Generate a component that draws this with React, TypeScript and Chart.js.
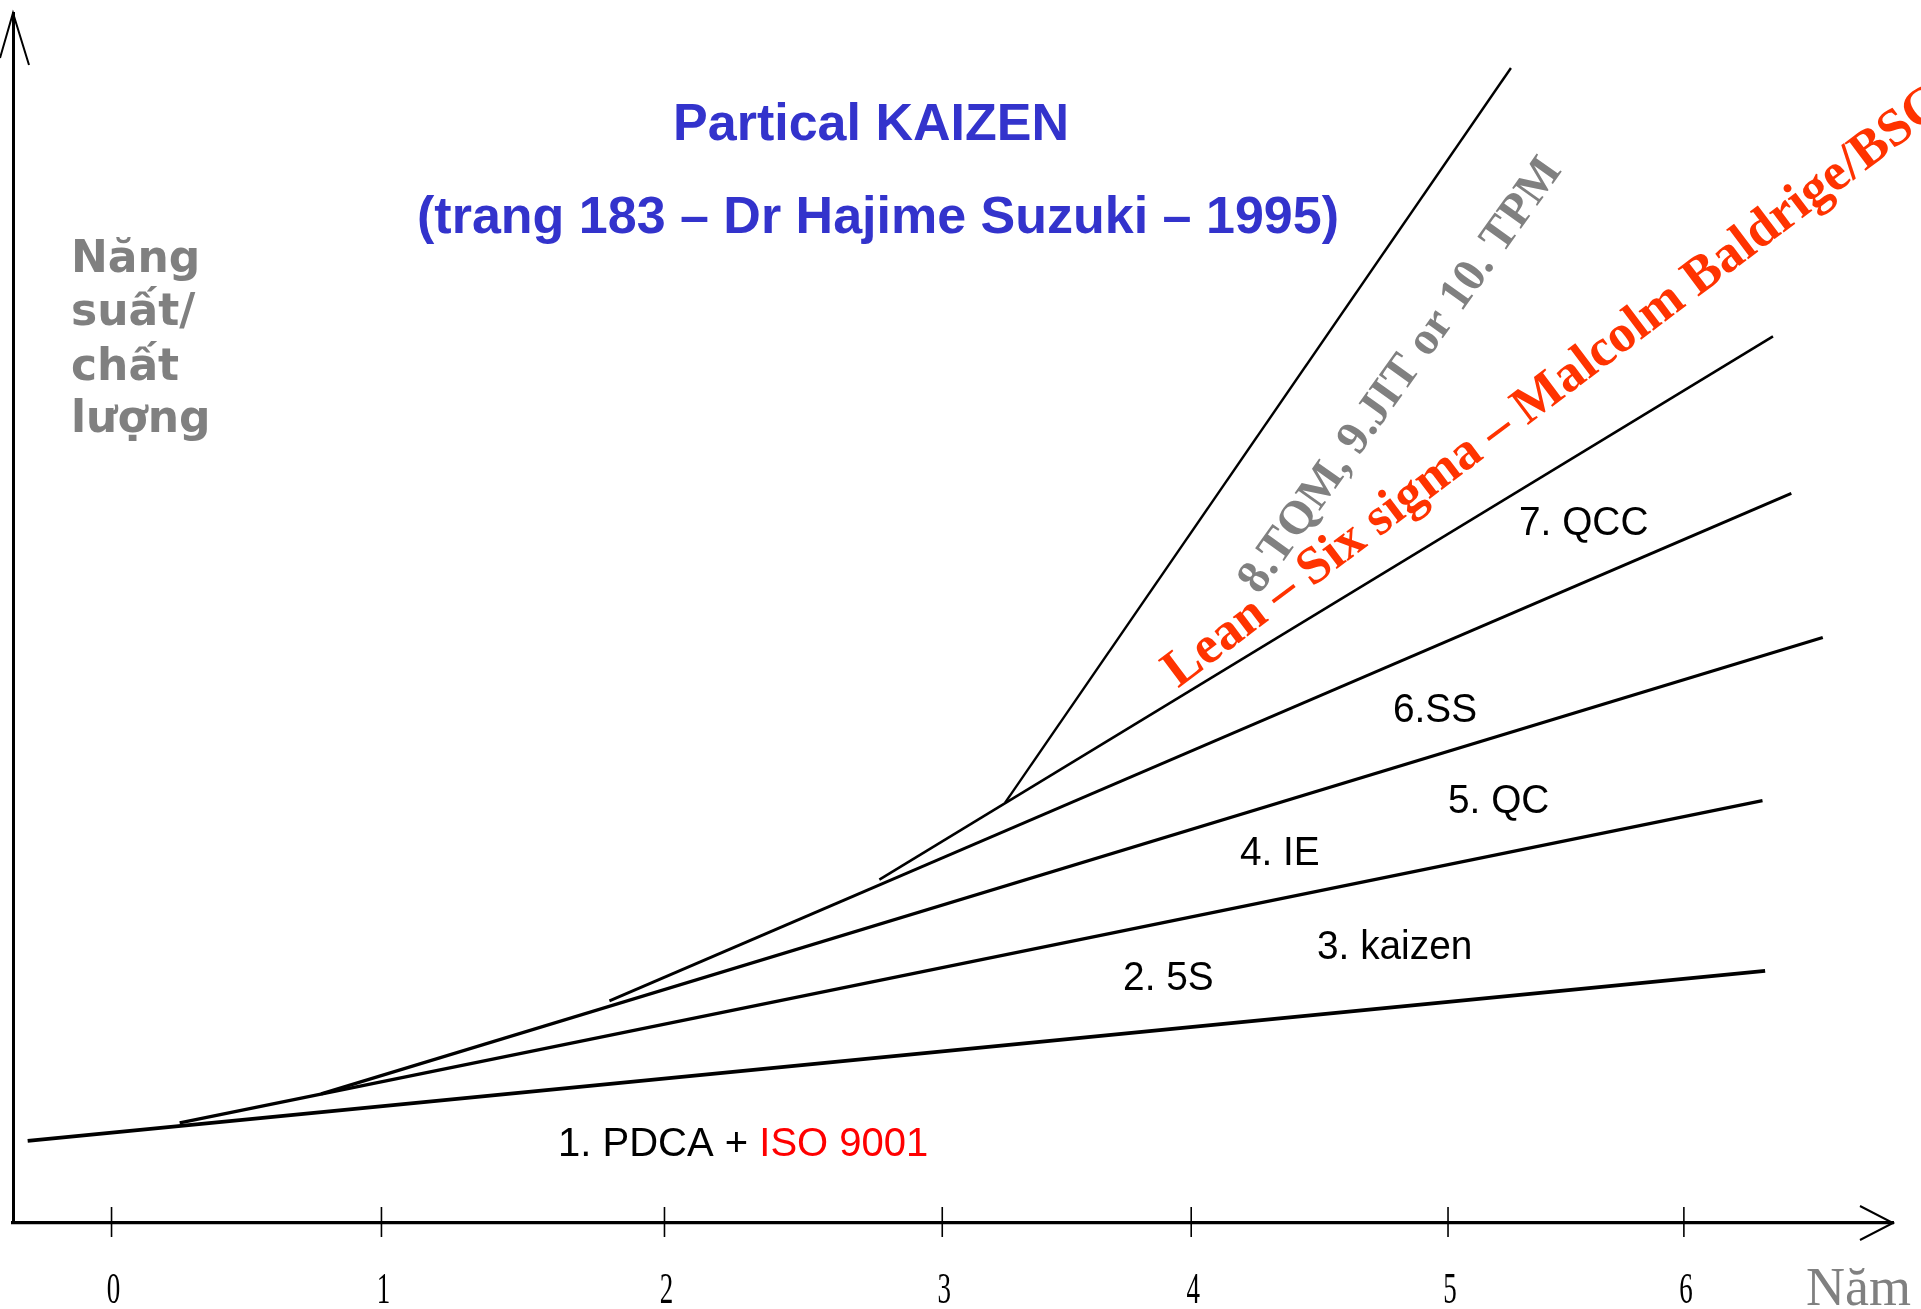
import { useEffect, useRef } from 'react';
import { Chart, registerables } from 'chart.js';

Chart.register(...registerables);

// ---- Axis ticks (years, as drawn on the hand-made axis) ----
const yearTickLabels = ['0', '1', '2', '3', '4', '5', '6'];
const yearTickValues = [0, 1.03, 2.11, 3.17, 4.12, 5.1, 6.0];

// ---- Improvement stages: each straight line branches from the previous one ----
const stageNames = ['PDCA + ISO 9001', '5S', 'kaizen', 'IE', 'QC', 'TQM/JIT/TPM'];
const startYears = [-0.32, 0.26, 0.8, 1.9, 2.93, 3.41];
const startLevels = [0.82, 1.0, 1.29, 2.22, 3.43, 4.2];
const endYears = [6.31, 6.3, 6.53, 6.41, 6.34, 5.34];
const endLevels = [2.52, 4.22, 5.85, 7.29, 8.86, 11.54];
const lineWidths = [3.7, 3.4, 3.2, 2.9, 2.6, 2.4];

// ---- Stage captions ----
const captionTexts = ['2. 5S', '3. kaizen', '4. IE', '5. QC', '6.SS', '7. QCC'];
const captionYears = [3.86, 4.6, 4.306, 5.1, 4.89, 5.371];
const captionLevels = [2.33, 2.64, 3.58, 4.1, 5.01, 6.87];

const baseCaption = '1. PDCA + ';
const baseCaptionRed = 'ISO 9001';
const baseCaptionYear = 1.704;
const baseCaptionLevel = 0.67;

const redSlogan = 'Lean \u2013 Six sigma \u2013 Malcolm Baldrige/BSC';
const redSloganYear = 4.07;
const redSloganLevel = 5.34;
const graySlogan = '8.TQM, 9.JIT or 10. TPM';
const graySloganYear = 4.38;
const graySloganLevel = 6.27;

const titleText = 'Partical KAIZEN';
const subtitleText = '(trang 183 \u2013 Dr Hajime Suzuki \u2013 1995)';
const yAxisLabel = ['N\u0103ng', 'su\u1ea5t/', 'ch\u1ea5t', 'l\u01b0\u1ee3ng'];
const xAxisLabel = 'N\u0103m';

const X_MIN = -0.376;
const X_MAX = 6.798;
const Y_MIN = 0;
const Y_MAX = 12.09;

function drawText(
  ctx: CanvasRenderingContext2D,
  text: string,
  x: number,
  y: number,
  font: string,
  color: string,
  sx = 1,
  align: CanvasTextAlign = 'left',
  rot = 0
) {
  ctx.save();
  ctx.translate(x, y);
  if (rot) ctx.rotate(rot);
  ctx.scale(sx, 1);
  ctx.font = font;
  ctx.fillStyle = color;
  ctx.textAlign = align;
  ctx.textBaseline = 'alphabetic';
  ctx.fillText(text, 0, 0);
  ctx.restore();
}

const decorPlugin = {
  id: 'kaizenDecor',
  afterDraw(chart: any) {
    const { ctx, chartArea, scales } = chart;
    const xs = scales.x;
    const ys = scales.y;
    const axisY = chartArea.bottom;
    const axisX = chartArea.left;

    ctx.save();
    ctx.strokeStyle = '#000';
    ctx.lineCap = 'butt';

    // tick marks crossing the x axis
    ctx.lineWidth = 1.6;
    xs.ticks.forEach((t: any) => {
      const px = xs.getPixelForValue(t.value);
      ctx.beginPath();
      ctx.moveTo(px, axisY - 16);
      ctx.lineTo(px, axisY + 14);
      ctx.stroke();
    });

    // arrow heads
    ctx.lineWidth = 2;
    ctx.beginPath();
    ctx.moveTo(axisX - 13, chartArea.top + 45);
    ctx.lineTo(axisX, chartArea.top);
    ctx.lineTo(axisX + 16, chartArea.top + 52);
    ctx.stroke();
    ctx.beginPath();
    ctx.moveTo(chartArea.right - 33, axisY - 17);
    ctx.lineTo(chartArea.right, axisY);
    ctx.lineTo(chartArea.right - 33, axisY + 17);
    ctx.stroke();
    ctx.restore();

    // tick labels
    xs.ticks.forEach((t: any, i: number) => {
      const px = xs.getPixelForValue(t.value);
      drawText(ctx, yearTickLabels[i], px + 2, axisY + 80, '45px "Liberation Serif"', '#000', 0.6, 'center');
    });
    drawText(ctx, xAxisLabel, 1806, axisY + 82, '54px "Liberation Serif"', '#808080');

    // titles
    const cx = (chartArea.left + chartArea.right) / 2;
    drawText(ctx, titleText, cx - 82, 140, 'bold 52px "Liberation Sans"', '#3333CC', 1, 'center');
    drawText(ctx, subtitleText, cx - 75, 233, 'bold 52px "Liberation Sans"', '#3333CC', 1, 'center');

    // y axis label
    const yl = [272, 325, 380, 432];
    yAxisLabel.forEach((s, i) => {
      drawText(ctx, s, 71, yl[i], 'bold 44px "DejaVu Sans"', '#808080');
    });

    // stage captions
    const capFont = '40px "Liberation Sans"';
    captionTexts.forEach((s, i) => {
      drawText(ctx, s, xs.getPixelForValue(captionYears[i]), ys.getPixelForValue(captionLevels[i]), capFont, '#000', 0.97);
    });
    const bx = xs.getPixelForValue(baseCaptionYear);
    const by = ys.getPixelForValue(baseCaptionLevel);
    ctx.save();
    ctx.font = capFont;
    const w = ctx.measureText(baseCaption).width;
    ctx.restore();
    drawText(ctx, baseCaption, bx, by, capFont, '#000', 1.0);
    drawText(ctx, baseCaptionRed, bx + w, by, capFont, '#FF0000', 1.0);

    // rotated slogans
    drawText(
      ctx,
      graySlogan,
      xs.getPixelForValue(graySloganYear),
      ys.getPixelForValue(graySloganLevel),
      'bold 47px "Liberation Serif"',
      '#808080',
      1,
      'left',
      (-54.5 * Math.PI) / 180
    );
    drawText(
      ctx,
      redSlogan,
      xs.getPixelForValue(redSloganYear),
      ys.getPixelForValue(redSloganLevel),
      'bold 53px "Liberation Serif"',
      '#FF3300',
      1,
      'left',
      (-37 * Math.PI) / 180
    );
  },
};

export default function App() {
  const ref = useRef<HTMLCanvasElement | null>(null);

  useEffect(() => {
    document.body.style.margin = '0';
    document.body.style.overflow = 'hidden';
    document.body.style.background = '#fff';
    const canvas = ref.current;
    if (!canvas) return;

    const datasets = stageNames.map((name, i) => ({
      label: name,
      data: [
        { x: startYears[i], y: startLevels[i] },
        { x: endYears[i], y: endLevels[i] },
      ],
      borderColor: '#000',
      backgroundColor: '#000',
      borderWidth: lineWidths[i],
      pointRadius: 0,
      pointHoverRadius: 0,
      tension: 0,
      fill: false,
    }));

    const chart = new Chart(canvas, {
      type: 'line',
      data: { datasets },
      options: {
        responsive: false,
        animation: false,
        events: [],
        layout: { padding: { left: 5, right: 28, top: 13, bottom: 78 } },
        plugins: {
          legend: { display: false },
          tooltip: { enabled: false },
          title: { display: false },
        },
        scales: {
          x: {
            type: 'linear',
            min: X_MIN,
            max: X_MAX,
            afterBuildTicks: (scale: any) => {
              scale.ticks = yearTickValues.map((v) => ({ value: v }));
            },
            grid: { display: false },
            border: { display: true, color: '#000', width: 3.3 },
            ticks: { display: false },
          },
          y: {
            type: 'linear',
            min: Y_MIN,
            max: Y_MAX,
            grid: { display: false },
            border: { display: true, color: '#000', width: 3 },
            ticks: { display: false },
          },
        },
      },
      plugins: [decorPlugin],
    });

    return () => chart.destroy();
  }, []);

  return (
    <div style={{ width: 1921, height: 1309, background: '#fff' }}>
      <canvas ref={ref} width={1921} height={1309} style={{ display: 'block' }} />
    </div>
  );
}
